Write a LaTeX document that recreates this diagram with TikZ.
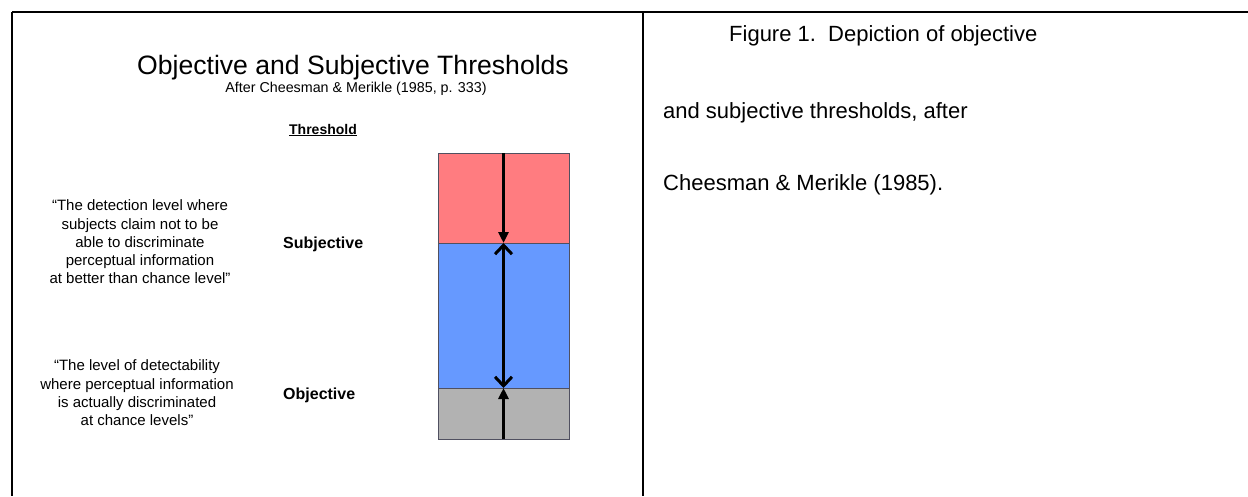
\documentclass[tikz,border=0pt]{standalone}
\usepackage{fontspec}
\setmainfont{Liberation Sans}
\usetikzlibrary{arrows.meta}
\definecolor{redband}{HTML}{FF7C80}
\definecolor{blueband}{HTML}{6699FF}
\definecolor{greyband}{HTML}{B2B2B2}
\definecolor{bandedge}{HTML}{505060}

\begin{document}
\begin{tikzpicture}[x=1pt,y=-1pt,
  band/.style={draw=bandedge, line width=0.8pt, minimum width=131pt, inner sep=0pt, outer sep=0pt, anchor=north},
  quote/.style={align=center, inner sep=0pt, font=\fontsize{15}{18.3}\selectfont},
  level/.style={anchor=base west, inner sep=0pt, font=\fontsize{16}{19}\bfseries},
  caption/.style={anchor=base west, inner sep=0pt, font=\fontsize{22}{26}\selectfont},
  shaft/.style={line width=3pt}
]
\useasboundingbox (0,0) rectangle (1248,496);

% table rules
\coordinate (tl) at (12,12);
\coordinate (tm) at (643,12);
\coordinate (tr) at (1248,12);
\coordinate (bl) at (12,496);
\coordinate (bm) at (643,496);
\draw[line width=1.3pt] (tl) -- (tm);
\draw[line width=1.8pt] (tm) -- (tr);
\draw[line width=2.2pt] (tl) -- (bl);
\draw[line width=2.4pt] (tm) -- (bm);

% headings
\node[anchor=base, inner sep=0pt, font=\fontsize{26.6}{31}\selectfont] (title) at (353,74) {Objective and Subjective Thresholds};
\node[anchor=base, inner sep=0pt, font=\fontsize{14.3}{17}\selectfont] (sub) at (356,92) {After Cheesman \& Merikle (1985, p. 333)};
\node[anchor=base, inner sep=0pt, font=\fontsize{14}{17}\bfseries] (thr) at (323,134) {\underline{Threshold}};

% definitions
\node[quote] (qsub) at (140,242) {“The detection level where\\subjects claim not to be\\able to discriminate\\perceptual information\\at better than chance level”};
\node[quote] (qobj) at (137,393) {“The level of detectability\\where perceptual information\\is actually discriminated\\at chance levels”};
\node[level] (lsub) at (283,248) {Subjective};
\node[level] (lobj) at (283,399) {Objective};

% threshold bands
\node[band, fill=redband, minimum height=90pt] (red) at (503.5,153) {};
\node[band, fill=blueband, minimum height=145pt] (blue) at (red.south) {};
\node[band, fill=greyband, minimum height=51pt] (grey) at (blue.south) {};

\draw[shaft, -{Triangle[length=11pt,width=10pt]}] (red.north) -- (red.south);
\draw[shaft, {Straight Barb[length=9pt,width=17pt]}-{Straight Barb[length=9pt,width=17pt]}] (blue.north) -- (blue.south);
\draw[shaft, -{Triangle[length=11pt,width=10pt]}] (grey.south) -- (grey.north);

% caption
\node[caption] (cap1) at (729,41) {Figure 1.\ \ Depiction of objective};
\node[caption] (cap2) at (663,118) {and subjective thresholds, after};
\node[caption] (cap3) at (663,190) {Cheesman \& Merikle (1985).};
\end{tikzpicture}
\end{document}
